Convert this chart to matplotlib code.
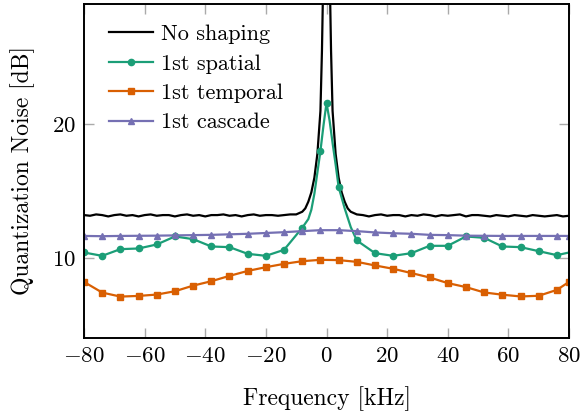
import numpy as np
import matplotlib
matplotlib.use('Agg')
import matplotlib.pyplot as plt

matplotlib.rcParams['font.family'] = 'serif'
matplotlib.rcParams['font.serif'] = ['cmr10']
matplotlib.rcParams['mathtext.fontset'] = 'cm'
matplotlib.rcParams['axes.formatter.use_mathtext'] = True

# no shaping (black), read every 2 kHz plus the narrow peak
f_none = [-80, -78, -76, -74, -72, -70, -68, -66, -64, -62, -60, -58, -56, -54, -52, -50,
          -48, -46, -44, -42, -40, -38, -36, -34, -32, -30, -28, -26, -24, -22, -20, -18,
          -16, -14, -12, -10, -8, -7, -6, -5, -4, -3, -2, -1.5, -1, -0.5, 0,
          0.5, 1, 1.5, 2, 3, 4, 5, 6, 7, 8, 10, 12, 14, 16, 18, 20, 22, 24, 26, 28, 30,
          32, 34, 36, 38, 40, 42, 44, 46, 48, 50, 52, 54, 56, 58, 60, 62, 64, 66, 68, 70,
          72, 74, 76, 78, 80]
n_none = [13.2, 13.15, 13.25, 13.2, 13.1, 13.2, 13.25, 13.15, 13.2, 13.1, 13.2, 13.25, 13.15, 13.2, 13.2, 13.1,
          13.2, 13.25, 13.15, 13.2, 13.1, 13.2, 13.2, 13.25, 13.15, 13.2, 13.1, 13.2, 13.25, 13.15, 13.2, 13.2,
          13.15, 13.2, 13.25, 13.25, 13.45, 13.7, 14.2, 14.9, 16.0, 17.8, 21.0, 25.5, 32.0, 38.0, 45.0,
          38.0, 32.0, 25.5, 21.0, 17.8, 16.0, 14.9, 14.2, 13.7, 13.45, 13.25, 13.2, 13.1, 13.2, 13.25, 13.15, 13.2,
          13.2, 13.1, 13.2, 13.15, 13.25, 13.2, 13.1, 13.2, 13.15, 13.2, 13.25, 13.1, 13.2, 13.2, 13.15, 13.1,
          13.2, 13.15, 13.1, 13.2, 13.15, 13.1, 13.2, 13.15, 13.1, 13.15, 13.2, 13.1, 13.15]

# 1st spatial (green) - line points and marker points
f_sp = [-80, -74, -68, -62, -56, -50, -44, -38, -32, -26, -20, -14, -8, -6, -5, -4, -3, -2, -1, 0,
        1, 2, 3, 4, 6, 8, 10, 16, 22, 28, 34, 40, 46, 52, 58, 64, 70, 76, 80]
n_sp = [10.4, 10.15, 10.65, 10.7, 11.0, 11.6, 11.4, 10.85, 10.8, 10.3, 10.15, 10.6, 12.25, 12.9, 13.6, 14.8, 16.4, 18.0, 19.9, 21.6,
        20.3, 18.6, 17.0, 15.3, 13.7, 12.3, 11.3, 10.35, 10.15, 10.35, 10.9, 10.9, 11.6, 11.5, 10.85, 10.8, 10.5, 10.2, 10.4]
mk_sp = [-80, -74, -68, -62, -56, -50, -44, -38, -32, -26, -20, -14, -8, -2, 0, 4,
         10, 16, 22, 28, 34, 40, 46, 52, 58, 64, 70, 76]

# 1st temporal (orange)
f_tm = [-80, -74, -68, -62, -56, -50, -44, -38, -32, -26, -20, -14, -8, -2, 4,
        10, 16, 22, 28, 34, 40, 46, 52, 58, 64, 70, 76, 80]
n_tm = [8.2, 7.4, 7.1, 7.15, 7.25, 7.5, 7.92, 8.25, 8.65, 9.02, 9.3, 9.55, 9.75, 9.85, 9.83,
        9.7, 9.43, 9.18, 8.86, 8.53, 8.11, 7.81, 7.41, 7.24, 7.11, 7.16, 7.6, 8.2]

# 1st cascade (purple)
f_cs = f_tm
n_cs = [11.64, 11.62, 11.64, 11.65, 11.66, 11.68, 11.7, 11.72, 11.76, 11.8, 11.86, 11.92, 12.0, 12.07, 12.07,
        12.0, 11.9, 11.84, 11.8, 11.72, 11.7, 11.66, 11.65, 11.64, 11.64, 11.64, 11.64, 11.64]

green = '#1b9e77'
orange = '#d95f02'
purple = '#7570b3'

fig = plt.figure(figsize=(5.82, 4.16), dpi=100)
ax = fig.add_axes([0.1443, 0.1875, 0.8334, 0.8029])

ax.plot(f_none, n_none, color='black', lw=1.6, label='No shaping')
mi = [f_sp.index(v) for v in mk_sp]
ax.plot(f_sp, n_sp, color=green, lw=1.6, marker='o', ms=4.5, markevery=mi, label='1st spatial')
ax.plot(f_tm, n_tm, color=orange, lw=1.6, marker='s', ms=4.5, label='1st temporal')
ax.plot(f_cs, n_cs, color=purple, lw=1.6, marker='^', ms=5, label='1st cascade')

ax.set_xlim(-80, 80)
ax.set_ylim(4, 29)
ax.set_xticks([-80, -60, -40, -20, 0, 20, 40, 60, 80])
ax.set_yticks([10, 20])
ax.tick_params(direction='in', length=7, width=1, color='#aaaaaa', labelsize=16.5,
               top=True, right=True, pad=6)
for s in ax.spines.values():
    s.set_linewidth(1.4)

ax.set_xlabel('Frequency [kHz]', fontsize=17, labelpad=15)
ax.set_ylabel('Quantization Noise [dB]', fontsize=17, labelpad=12)

ax.legend(loc='upper left', frameon=False, fontsize=16, handlelength=2.0,
          handletextpad=0.35, labelspacing=0.445, borderaxespad=0.0,
          bbox_to_anchor=(0.033, 0.965))

fig.savefig('out.png', dpi=100)
